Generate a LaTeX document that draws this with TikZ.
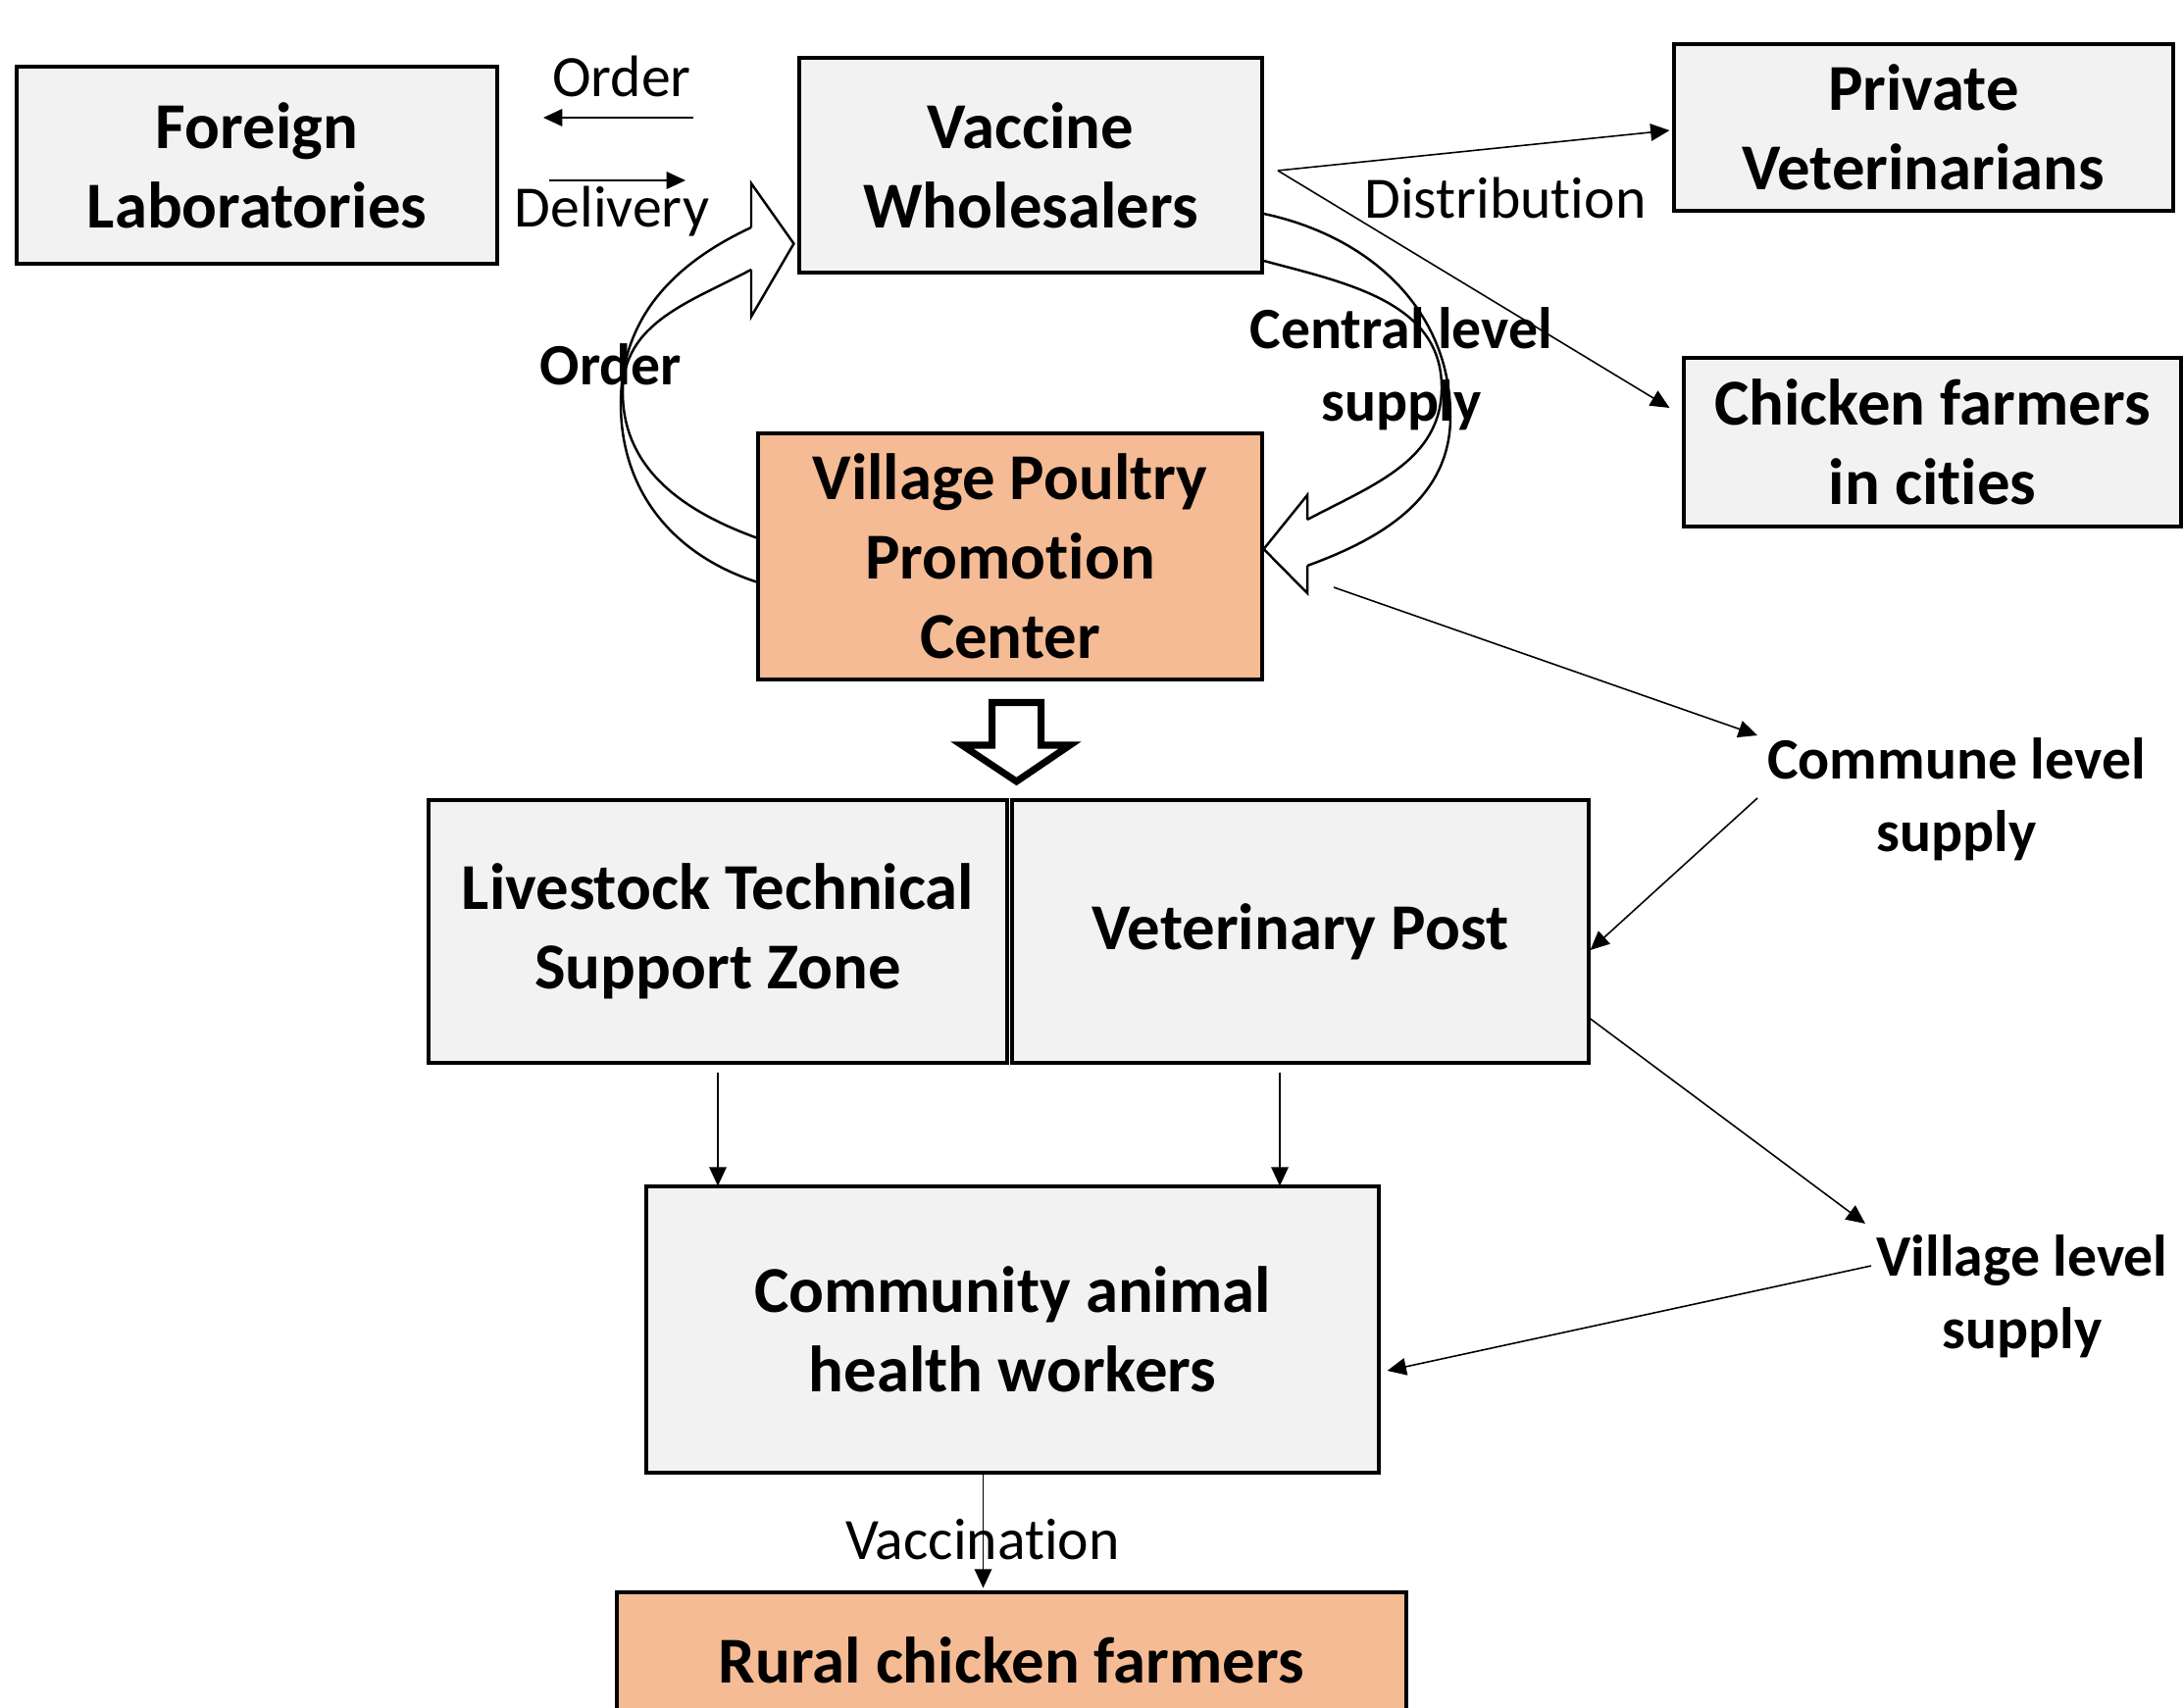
\documentclass[tikz,border=0pt]{standalone}
\usepackage{fontspec}
\setmainfont{Carlito}[Ligatures={NoCommon}]
\usetikzlibrary{arrows.meta}

\definecolor{boxgray}{HTML}{F2F2F2}
\definecolor{boxorange}{HTML}{F4BB94}

\tikzset{
    box/.style={draw, line width=0.9pt, fill=boxgray, align=center, inner sep=0pt,
        font=\fontsize{19}{23}\selectfont\bfseries},
    hot/.style={box, fill=boxorange},
    lbl/.style={align=center, inner sep=0pt, font=\fontsize{17}{21}\selectfont},
    blbl/.style={lbl, font=\fontsize{17}{21}\selectfont\bfseries},
    link/.style={line width=0.45pt, -{Triangle[length=5.5pt,width=5pt]}},
    band/.style={line width=0.7pt},
}

\begin{document}
\begin{tikzpicture}
    \clip (0,0) rectangle (22.26,-17.42);
    \fill[white] (0,0) rectangle (22.26,-17.42);

    \node[box, minimum width=4.90cm, minimum height=2.01cm] (forlab) at (2.62,-1.685) {Foreign\\Laboratories};
    \node[box, minimum width=4.72cm, minimum height=2.19cm] (vw) at (10.51,-1.685) {Vaccine\\Wholesalers};
    \node[box, minimum width=5.09cm, minimum height=1.70cm] (pv) at (19.615,-1.30) {Private\\Veterinarians};
    \node[box, minimum width=5.07cm, minimum height=1.72cm] (cfc) at (19.705,-4.51) {Chicken farmers\\in cities};
    \node[hot, minimum width=5.14cm, minimum height=2.51cm] (vppc) at (10.30,-5.675) {Village Poultry\\Promotion\\Center};
    \node[box, minimum width=5.90cm, minimum height=2.68cm] (ltsz) at (7.32,-9.50) {Livestock Technical\\Support Zone};
    \node[box, minimum width=5.88cm, minimum height=2.68cm] (vp) at (13.26,-9.50) {Veterinary Post};
    \node[box, minimum width=7.47cm, minimum height=2.92cm] (cahw) at (10.325,-13.56) {Community animal\\health workers};
    \node[hot, minimum width=8.05cm, minimum height=1.38cm] (rcf) at (10.315,-16.93) {Rural chicken farmers};

    \node[lbl] (order) at (6.34,-0.78) {Order};
    \node[lbl] (delivery) at (6.24,-2.16) {Delivery};
    \node[blbl] (order2) at (6.23,-3.72) {Order};
    \node[lbl] (distrib) at (15.35,-2.02) {Distribution};
    \node[blbl] (central) at (14.29,-3.76) {Central level\\supply};
    \node[blbl] (commune) at (19.95,-8.15) {Commune level\\supply};
    \node[blbl] (village) at (20.62,-13.22) {Village level\\supply};
    \node[lbl] (vacc) at (10.02,-15.70) {Vaccination};

    \coordinate (ordS) at (7.07,-1.20);
    \coordinate (ordE) at (5.54,-1.20);
    \coordinate (delS) at (5.60,-1.84);
    \coordinate (delE) at (6.99,-1.84);
    \coordinate (distS) at (13.03,-1.74);
    \coordinate (comS) at (13.60,-5.99);
    \coordinate (comE) at (17.92,-7.50);
    \coordinate (comS2) at (17.92,-8.14);
    \coordinate (vilE) at (19.02,-12.48);
    \coordinate (vilS) at (19.08,-12.91);

    \draw[link] (ordS) -- (ordE);
    \draw[link] (delS) -- (delE);
    \draw[link] (distS) -- ([xshift=-0.03cm,yshift=-0.03cm]pv.west);
    \draw[link] (distS) -- ([xshift=-0.13cm,yshift=0.35cm]cfc.west);
    \draw[link] (comS) -- (comE);
    \draw[link] (comS2) -- ([yshift=-0.19cm]vp.east);
    \draw[link] ([yshift=-0.89cm]vp.east) -- (vilE);
    \draw[link] (vilS) -- ([xshift=0.07cm,yshift=-0.42cm]cahw.east);
    \draw[link] ([yshift=-0.08cm]ltsz.south) -- ++(0,-1.16);
    \draw[link] ([xshift=-0.21cm,yshift=-0.08cm]vp.south) -- ++(0,-1.16);
    \draw[link] ([xshift=-0.30cm]cahw.south) -- ++(0,-1.16);

    % order band, vppc -> vw
    \draw[band] (7.66,-2.32) to[out=205,in=90] (6.33,-4.12) to[out=-90,in=162] ([yshift=-0.26cm]vppc.west);
    \draw[band] (7.66,-2.75) to[out=208,in=90] (6.35,-4.00) to[out=-90,in=160] ([yshift=0.19cm]vppc.west);
    \draw[band] (7.66,-2.32) -- (7.66,-1.87) -- ([xshift=-0.04cm,yshift=-0.80cm]vw.west) -- (7.66,-3.23) -- (7.66,-2.75);

    % supply band, vw -> vppc
    \draw[band] ([yshift=-0.495cm]vw.east) to[out=-12,in=90] (14.79,-4.25) to[out=-90,in=20] (13.33,-5.77);
    \draw[band] ([yshift=-0.975cm]vw.east) to[out=-15,in=90] (14.70,-3.95) to[out=-90,in=28] (13.33,-5.30);
    \draw[band] (13.33,-5.30) -- (13.33,-5.05) -- ([yshift=0.075cm]vppc.east) -- (13.33,-6.05) -- (13.33,-5.77);

    \draw[line width=2pt, fill=white] (10.115,-7.165) -- (10.615,-7.165) -- (10.615,-7.60) -- (10.91,-7.60)
        -- (10.365,-7.97) -- (9.81,-7.60) -- (10.115,-7.60) -- cycle;
\end{tikzpicture}
\end{document}
